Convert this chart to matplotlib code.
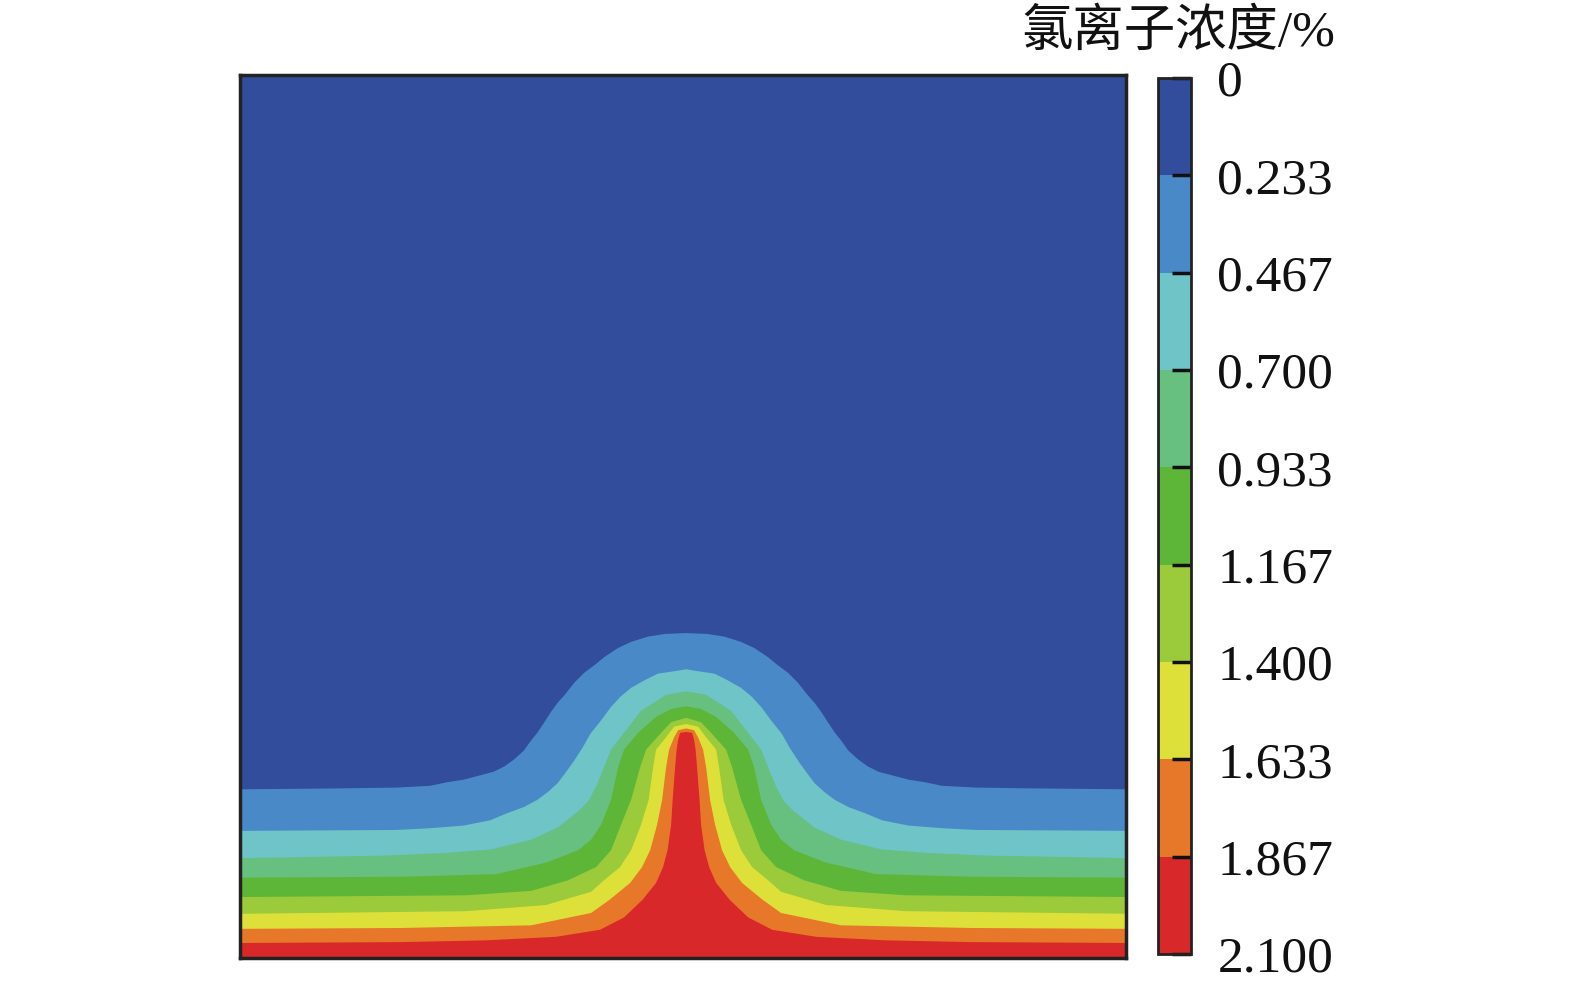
import matplotlib
matplotlib.use("Agg")
import numpy as np
import matplotlib.pyplot as plt
from matplotlib.colors import ListedColormap, BoundaryNorm
from matplotlib.cm import ScalarMappable

# chloride concentration levels (%) and band colours, from 0 (top of bar) to 2.1
levels = [0, 0.2333, 0.4667, 0.7, 0.9333, 1.1667, 1.4, 1.6333, 1.8667, 2.1]
level_labels = ["0", "0.233", "0.467", "0.700", "0.933", "1.167", "1.400", "1.633", "1.867", "2.100"]
band_colors = ["#324d9c", "#4a89c8", "#6ec4c6", "#67bf80", "#5db638",
               "#9bcb3b", "#dee03a", "#e7782a", "#d8282a"]

# specimen 100 x 100 (mm), crack centred at x = crack_x
crack_x = 50.35

# iso-lines: distance from crack centre (mm) and height above exposed face (mm)
d_0233 = [0, 2.4, 4.3, 6.2, 7.7, 9.2, 10.3, 11.5, 12.6, 13.7, 14.5, 15.3, 16.0, 16.8,
          17.6, 18.3, 19.4, 20.5, 21.7, 23.2, 25.1, 27.0, 28.9, 32.7, 39.7, 50.5]
h_0233 = [36.8, 36.7, 36.4, 35.8, 35.1, 34.1, 33.2, 32.3, 31.2, 29.8, 28.9, 27.8, 26.7, 25.5,
          24.5, 23.5, 22.5, 21.7, 21.1, 20.7, 20.2, 19.9, 19.5, 19.3, 19.2, 19.1]

d_0467 = [0, 1.2, 3.2, 4.6, 6.2, 7.4, 8.5, 9.6, 10.8, 11.7, 12.6, 13.6, 14.5, 15.6,
          16.8, 18.3, 20.2, 22.1, 25.1, 28.9, 32.7, 50.5]
h_0467 = [32.7, 32.5, 32.2, 31.5, 30.6, 29.6, 28.4, 26.9, 25.4, 23.8, 22.4, 21.0, 19.8, 18.8,
          17.9, 17.1, 16.4, 15.6, 15.0, 14.7, 14.5, 14.4]

d_0700 = [0, 2.26, 5.08, 7.00, 8.47, 9.26, 10.16, 10.95, 11.96, 14.45, 17.49, 22.01, 27.09, 33.86, 50.5]
h_0700 = [30.2, 29.8, 28.0, 25.5, 23.6, 21.6, 19.4, 17.9, 16.8, 14.8, 13.4, 12.3, 11.9, 11.6, 11.3]

d_0933 = [0, 1.69, 3.39, 5.42, 7.00, 7.67, 8.47, 9.59, 10.72, 12.19, 15.80, 21.44, 32.17, 50.5]
h_0933 = [28.5, 28.2, 27.3, 25.5, 23.6, 21.6, 17.9, 15.1, 13.4, 12.2, 10.8, 9.5, 9.2, 9.1]

d_1167 = [0, 1.69, 2.82, 4.51, 5.19, 6.21, 7.34, 8.47, 10.16, 13.32, 17.49, 24.83, 50.5]
h_1167 = [27.2, 26.7, 25.5, 23.6, 21.6, 17.9, 15.1, 12.2, 10.3, 8.8, 7.6, 7.1, 6.9]

d_1400 = [0, 1.35, 2.26, 3.39, 3.72, 4.23, 5.08, 6.21, 7.45, 9.26, 10.72, 15.80, 24.83, 50.5]
h_1400 = [26.5, 26.2, 25.0, 23.6, 21.6, 17.9, 15.1, 12.2, 10.3, 8.8, 7.5, 6.0, 5.3, 5.0]

d_1633 = [0, 0.90, 1.35, 1.92, 2.26, 2.71, 3.27, 4.06, 4.97, 6.32, 8.63, 10.72, 17.49, 32.17, 50.5]
h_1633 = [26.0, 25.8, 25.0, 23.6, 21.6, 17.9, 15.1, 12.2, 10.3, 8.5, 6.6, 5.1, 3.7, 3.4, 3.3]

d_1867 = [0, 0.68, 0.90, 1.07, 1.24, 1.52, 1.69, 2.09, 2.60, 3.39, 4.91, 7.00, 9.71,
          14.67, 22.57, 32.17, 50.5]
h_1867 = [25.6, 25.5, 24.7, 23.6, 21.6, 17.9, 15.1, 12.2, 10.3, 8.5, 6.6, 4.6, 3.2,
          2.4, 2.0, 1.8, 1.7]

isolines = [(d_0233, h_0233), (d_0467, h_0467), (d_0700, h_0700), (d_0933, h_0933),
            (d_1167, h_1167), (d_1400, h_1400), (d_1633, h_1633), (d_1867, h_1867)]

plt.rcParams['font.family'] = ['Liberation Serif', 'Noto Sans CJK SC']

fig = plt.figure(figsize=(15.75, 9.83), dpi=100)
ax = fig.add_axes([0.15238, 0.02543, 0.56254, 0.89827])
ax.set_facecolor(band_colors[0])

# paint each band as the area below its upper iso-line, top band first
for (d, h), color in zip(isolines, band_colors[1:]):
    d = np.asarray(d)
    h = np.asarray(h)
    xs = np.concatenate([crack_x - d[::-1], crack_x + d[1:]])
    ys = np.concatenate([h[::-1], h[1:]])
    xs = np.concatenate([[xs[0]], xs, [xs[-1]]])
    ys = np.concatenate([[0], ys, [0]])
    ax.fill(xs, ys, color=color, linewidth=0)

ax.set_xlim(0, 100)
ax.set_ylim(0, 100)
ax.set_xticks([])
ax.set_yticks([])
for sp in ax.spines.values():
    sp.set_linewidth(2.5)
    sp.set_color("#222222")

# colour bar, 0 at the top
cax = fig.add_axes([0.73524, 0.0295, 0.02095, 0.89115])
cmap = ListedColormap(band_colors)
norm = BoundaryNorm(levels, cmap.N)
cb = fig.colorbar(ScalarMappable(norm=norm, cmap=cmap), cax=cax, ticks=levels)
cax.invert_yaxis()
cb.set_ticklabels(level_labels)
cb.outline.set_linewidth(2)
cb.outline.set_edgecolor("#222222")
cax.yaxis.set_ticks_position('right')
cax.tick_params(direction='in', length=14, width=2.5, pad=19,
                labelsize=37, colors="#111111")

fig.text(0.848, 0.953, "氯离子浓度/%", ha='right', va='baseline',
         fontsize=37, color="#111111")

fig.savefig("out.png", dpi=100)
